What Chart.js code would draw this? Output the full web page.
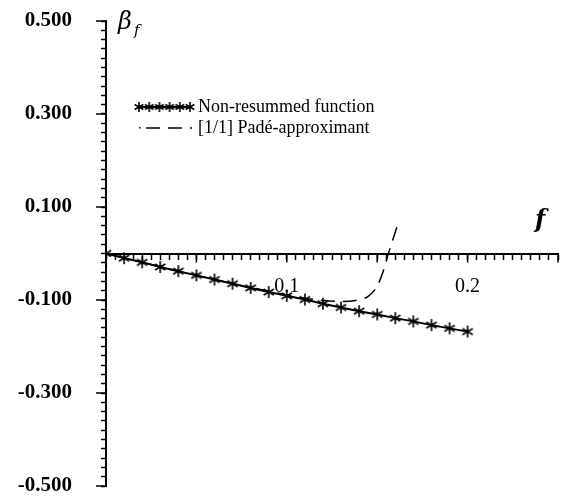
<!DOCTYPE html>
<html>
<head>
<meta charset="utf-8">
<script src="https://cdn.jsdelivr.net/npm/chart.js@4.4.1/dist/chart.umd.min.js"></script>
<style>
  html, body { margin: 0; padding: 0; background: #fff; }
  #wrap { width: 566px; height: 498px; position: relative; }
</style>
</head>
<body>
<div id="wrap"><canvas id="betaChart"></canvas></div>
<script>
// values
const fValues = [0, 0.01, 0.02, 0.03, 0.04, 0.05, 0.06, 0.07, 0.08, 0.09, 0.10,
                 0.11, 0.12, 0.13, 0.14, 0.15, 0.16, 0.17, 0.18, 0.19, 0.20];
const betaNonResummed = [0, -0.010, -0.019, -0.029, -0.038, -0.047, -0.056, -0.065, -0.074, -0.083, -0.091,
                         -0.099, -0.108, -0.116, -0.124, -0.131, -0.139, -0.146, -0.154, -0.161, -0.168];

const padeF = [0, 0.02, 0.04, 0.06, 0.08, 0.10, 0.11, 0.12, 0.13, 0.138, 0.145, 0.150, 0.153, 0.155, 0.157, 0.159, 0.161];
const padeBeta = [0, -0.019, -0.038, -0.056, -0.073, -0.089, -0.096, -0.101, -0.103, -0.101, -0.092, -0.070, -0.042, -0.016, 0.010, 0.034, 0.058];

const xTickLabels = [0.1, 0.2];
const yTickLabels = [0.5, 0.3, 0.1, -0.1, -0.3, -0.5];

const legendLabels = ["Non-resummed function", "[1/1] Padé-approximant"];

const isYLabel = v => yTickLabels.some(t => Math.abs(t - v) < 1e-6);
const isXLabel = v => xTickLabels.some(t => Math.abs(t - v) < 1e-6);
const isXMajor = v => Math.abs(Math.round(v / 0.05) * 0.05 - v) < 1e-6;

function asterisk(r) {
  const c = document.createElement("canvas");
  c.width = c.height = 2 * r + 4;
  const g = c.getContext("2d");
  g.strokeStyle = "#000";
  g.lineWidth = 1.6;
  g.translate(r + 2, r + 2);
  g.beginPath();
  for (let i = 0; i < 3; i++) {
    const a = Math.PI / 2 + i * Math.PI / 3;
    g.moveTo(Math.cos(a) * r, Math.sin(a) * r);
    g.lineTo(-Math.cos(a) * r, -Math.sin(a) * r);
  }
  g.stroke();
  return c;
}
const star = asterisk(6);
const smallStar = asterisk(5);

const decorations = {
  id: "decorations",
  afterDraw(chart) {
    const { ctx } = chart;
    const xs = chart.scales.x, ys = chart.scales.y;
    const y0 = ys.getPixelForValue(0);
    ctx.save();
    ctx.strokeStyle = "#000";
    ctx.lineWidth = 1.5;
    // longer major ticks
    ys.ticks.forEach(t => {
      if (!isYLabel(t.value)) return;
      const py = ys.getPixelForValue(t.value);
      ctx.beginPath(); ctx.moveTo(ys.right - 10, py); ctx.lineTo(ys.right, py); ctx.stroke();
    });
    xs.ticks.forEach(t => {
      if (!isXMajor(t.value) || t.value === 0) return;
      const px = xs.getPixelForValue(t.value);
      ctx.beginPath(); ctx.moveTo(px, y0); ctx.lineTo(px, y0 + 9); ctx.stroke();
    });

    // axis titles
    ctx.fillStyle = "#000";
    ctx.textBaseline = "alphabetic";
    ctx.font = "italic 24px 'DejaVu Serif'";
    ctx.fillText("\u03B2", chart.chartArea.left + 12, chart.chartArea.top + 8);
    ctx.font = "italic 15px 'DejaVu Serif'";
    ctx.fillText("f", chart.chartArea.left + 28, chart.chartArea.top + 14);
    ctx.font = "bold italic 24px 'DejaVu Serif'";
    ctx.fillText("f", xs.right - 23, y0 - 27);

    // legend
    const lx = 139, ly1 = 107, ly2 = 128;
    ctx.lineWidth = 1.8;
    ctx.beginPath(); ctx.moveTo(lx, ly1); ctx.lineTo(lx + 51, ly1); ctx.stroke();
    for (let i = 0; i < 6; i++) ctx.drawImage(smallStar, lx + i * 10.2 - smallStar.width / 2, ly1 - smallStar.height / 2);
    ctx.lineWidth = 1.5;
    ctx.setLineDash([14, 8]);
    ctx.beginPath(); ctx.moveTo(lx + 7, ly2); ctx.lineTo(lx + 53, ly2); ctx.stroke();
    ctx.setLineDash([]);
    ctx.fillRect(lx, ly2 - 1, 1.5, 1.5);
    ctx.font = "18px 'Liberation Serif'";
    ctx.textBaseline = "middle";
    ctx.fillText(legendLabels[0], 198, ly1);
    ctx.fillText(legendLabels[1], 198, ly2);
    ctx.restore();
  }
};

new Chart(document.getElementById("betaChart"), {
  type: "scatter",
  data: {
    datasets: [
      {
        label: legendLabels[1],
        data: padeF.map((x, i) => ({ x, y: padeBeta[i] })),
        showLine: true,
        borderColor: "#000",
        borderWidth: 1.5,
        borderDash: [14, 8],
        pointRadius: 0,
        cubicInterpolationMode: "monotone"
      },
      {
        label: legendLabels[0],
        data: fValues.map((x, i) => ({ x, y: betaNonResummed[i] })),
        showLine: true,
        borderColor: "#000",
        borderWidth: 2,
        pointStyle: star,
        pointRadius: 6
      }
    ]
  },
  options: {
    responsive: true,
    maintainAspectRatio: false,
    animation: false,
    layout: { padding: { top: 21, right: 1, bottom: 12, left: 0 } },
    plugins: { legend: { display: false }, tooltip: { enabled: false } },
    scales: {
      x: {
        type: "linear",
        position: { y: 0 },
        min: 0,
        max: 0.25,
        afterFit: s => { s.height = 0; s.paddingLeft = 0; s.paddingRight = 0; },
        ticks: {
          stepSize: 0.005,
          autoSkip: false,
          maxRotation: 0,
          padding: 16,
          color: "#000",
          font: { family: "Liberation Serif", size: 20 },
          callback: v => isXLabel(v) ? v.toFixed(1) : ""
        },
        grid: { drawOnChartArea: false, drawTicks: true, tickLength: 5, tickColor: "#000", tickWidth: 1.5 },
        border: { display: true, color: "#000", width: 2 }
      },
      y: {
        type: "linear",
        position: "left",
        min: -0.5,
        max: 0.5,
        afterFit: s => { s.width = 106; s.paddingTop = 0; s.paddingBottom = 0; },
        ticks: {
          stepSize: 0.02,
          autoSkip: false,
          padding: 29,
          color: "#000",
          font: { family: "Liberation Serif", size: 21, weight: "bold" },
          callback: v => isYLabel(v) ? v.toFixed(3) : ""
        },
        grid: { drawOnChartArea: false, drawTicks: true, tickLength: 5, tickColor: "#000", tickWidth: 1.5 },
        border: { display: true, color: "#000", width: 2 }
      }
    }
  },
  plugins: [decorations]
});
</script>
</body>
</html>
